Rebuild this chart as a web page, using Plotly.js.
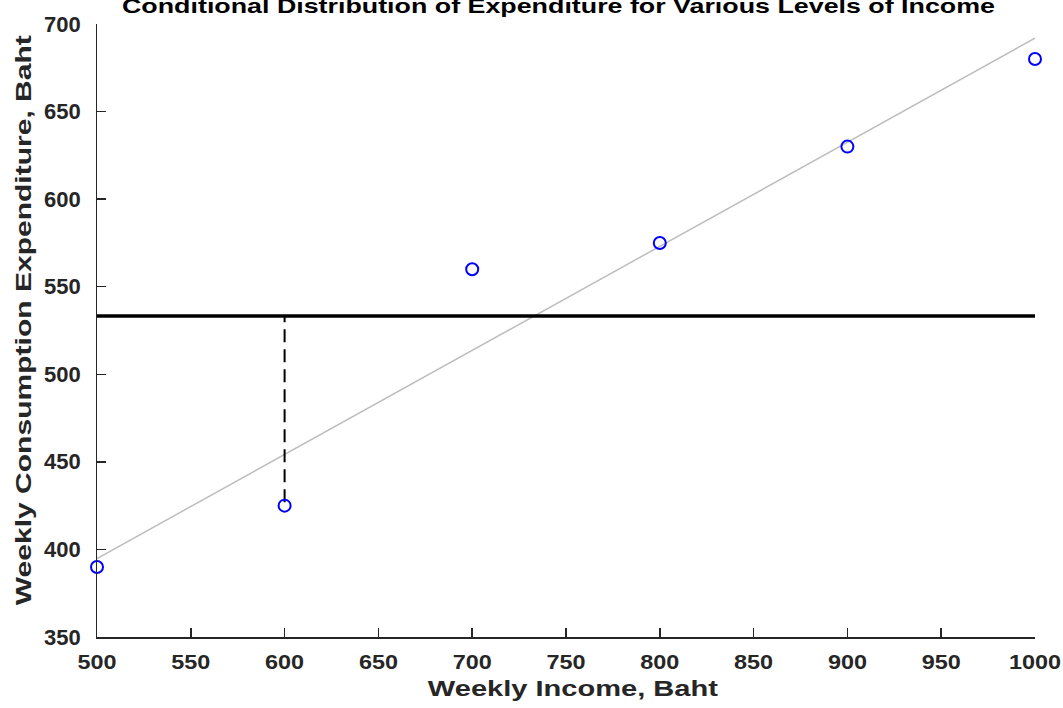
<!DOCTYPE html>
<html><head><meta charset="utf-8">
<script src="https://cdn.plot.ly/plotly-3.0.1.min.js"></script>
<style>body{margin:0;padding:0;background:#fff}#chart{width:1063px;height:708px}</style>
</head><body><div id="chart"></div>
<script>
// Data
const incomeX = [500, 600, 700, 800, 900, 1000];
const expenditureY = [390, 425, 560, 575, 630, 680];
const fitX = [500, 1000];
const fitY = [394.8, 691.9];
const meanX = [500, 1000];
const meanY = [533.3, 533.3];
const devX = [600, 600];
const devY = [427, 533.3];
const yTickVals = [350, 400, 450, 500, 550, 600, 650, 700];
const chartTitle = 'Conditional Distribution of Expenditure for Various Levels of Income';
const xTitle = 'Weekly Income, Baht';
const yTitle = 'Weekly Consumption Expenditure, Baht';

const fam = 'Liberation Sans, Arial, Helvetica, sans-serif';
const traces = [
  {x: fitX, y: fitY, mode: 'lines', line: {color: '#bdbdbd', width: 1.5}, hoverinfo: 'skip'},
  {x: meanX, y: meanY, mode: 'lines', line: {color: '#000000', width: 3.5}, hoverinfo: 'skip'},
  {x: devX, y: devY, mode: 'lines', line: {color: '#000000', width: 2, dash: '13px,7px'}, hoverinfo: 'skip'},
  {x: incomeX, y: expenditureY, mode: 'markers', cliponaxis: false,
   marker: {symbol: 'circle-open', size: 12, color: '#0000ff', line: {width: 2, color: '#0000ff'}}}
];
const annotations = [
  {text: xTitle, xref: 'paper', yref: 'paper', x: (573 - 97) / 938, y: -(688 - 637) / 613,
   xanchor: 'center', yanchor: 'middle', showarrow: false,
   font: {family: fam, size: 22, color: '#262626', weight: 'bold'}},
  {text: yTitle, xref: 'paper', yref: 'paper', x: -(97 - 23) / 938, y: (637 - 320) / 613,
   xanchor: 'center', yanchor: 'middle', showarrow: false, textangle: -90,
   font: {family: fam, size: 22, color: '#262626', weight: 'bold'}}
];
yTickVals.forEach(function (v) {
  annotations.push({text: String(v), xref: 'paper', yref: 'y', x: 0, y: v, xshift: -14,
    xanchor: 'right', yanchor: 'middle', showarrow: false,
    font: {family: fam, size: 22, color: '#262626', weight: 'bold'}});
});
const layout = {
  width: 1063, height: 708,
  margin: {l: 97, r: 28, t: 24, b: 71},
  showlegend: false,
  paper_bgcolor: '#fff', plot_bgcolor: '#fff',
  title: {text: chartTitle,
          font: {family: fam, size: 21, color: '#000', weight: 'bold'},
          x: 558.5 / 1063, xanchor: 'center', y: 0.9925, yref: 'container', yanchor: 'middle'},
  xaxis: {range: [500, 1000], dtick: 50, showgrid: false, zeroline: false,
          showline: true, linecolor: '#262626', linewidth: 1.5,
          ticks: 'inside', ticklen: 9, tickwidth: 1.5, tickcolor: '#262626',
          ticklabelstandoff: 6,
          tickfont: {family: fam, size: 20, color: '#262626', weight: 'bold'}},
  yaxis: {range: [350, 700], tickvals: yTickVals, showticklabels: false,
          showgrid: false, zeroline: false,
          showline: true, linecolor: '#262626', linewidth: 1.5,
          ticks: 'inside', ticklen: 9, tickwidth: 1.5, tickcolor: '#262626'},
  annotations: annotations
};
function fixText(gd) {
  function stretch(el, target) {
    el.setAttribute('textLength', target);
    el.setAttribute('lengthAdjust', 'spacingAndGlyphs');
  }
  gd.querySelectorAll('.xtick text').forEach(function (t) {
    stretch(t, t.getComputedTextLength() * 1.17);
  });
  const gt = gd.querySelector('.gtitle');
  if (gt) stretch(gt, 873);
  const ann = gd.querySelectorAll('.annotation-text');
  if (ann[0]) stretch(ann[0], 290);
  if (ann[1]) stretch(ann[1], 570);
}
Plotly.newPlot('chart', traces, layout, {displayModeBar: false, staticPlot: true}).then(function (gd) {
  fixText(gd);
});
</script></body></html>
